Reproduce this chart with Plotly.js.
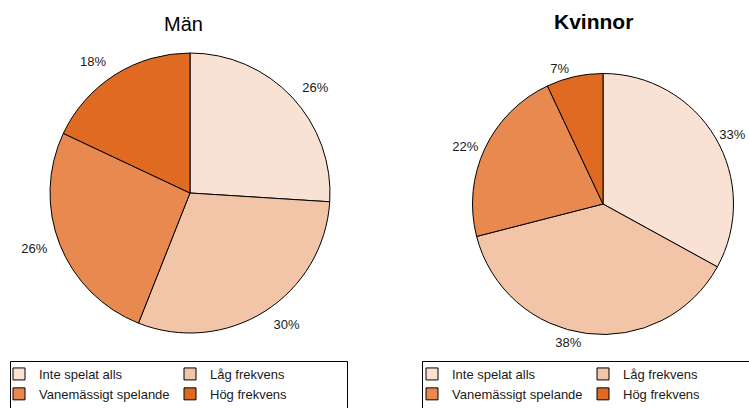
<!DOCTYPE html>
<html>
<head>
<meta charset="utf-8">
<script src="https://cdn.plot.ly/plotly-3.0.1.min.js"></script>
<style>html,body{margin:0;padding:0;background:#fff;}#chart{width:749px;height:408px;}</style>
</head>
<body>
<div id="chart"></div>
<script>
const categories = ["Inte spelat alls", "Låg frekvens", "Vanemässigt spelande", "Hög frekvens"];
const menValues = [26, 30, 26, 18];
const womenValues = [33, 38, 22, 7];
const titles = ["Män", "Kvinnor"];
const colors = ["#F9E1D4", "#F2C4A8", "#E88A50", "#E16A22"];

const W = 749, H = 408, ML = 40, MR = 9;
const GW = W - ML - MR;
const px = v => (v - ML) / GW;
const py = v => 1 - v / H;

const font = {family: "Liberation Sans, Arial, sans-serif", size: 13, color: "#1a1a1a"};

function dom(cx, cy, r) {
  return {x: [px(cx - r), px(cx + r)], y: [py(cy + r), py(cy - r)]};
}

// transparent, slightly larger pie that only carries the outside percentage labels
function labelTrace(vals, d, group) {
  return {
    type: "pie", labels: categories, values: vals, sort: false,
    direction: "clockwise", rotation: 0,
    marker: {colors: categories.map(() => "rgba(0,0,0,0)"), line: {width: 0}},
    textposition: "outside", texttemplate: "%{value}%", textfont: font,
    hoverinfo: "skip", domain: d, showlegend: false, legendgroup: group
  };
}

function pieTrace(vals, d, legendId, group) {
  return {
    type: "pie", labels: categories, values: vals, sort: false,
    direction: "clockwise", rotation: 0,
    marker: {colors: colors, line: {color: "#000", width: 1}},
    textinfo: "none", textposition: "none",
    hoverinfo: "label+percent", domain: d,
    legend: legendId, legendgroup: group, showlegend: true
  };
}

const data = [
  labelTrace(menValues, dom(190, 193, 149), "m"),
  labelTrace(womenValues, dom(602, 204, 132), "k"),
  pieTrace(menValues, dom(190, 193, 140), "legend", "m"),
  pieTrace(womenValues, dom(603, 204, 130.5), "legend2", "k")
];

const legendBase = {
  orientation: "h",
  font: font,
  bgcolor: "rgba(0,0,0,0)",
  borderwidth: 0,
  entrywidth: 126,
  entrywidthmode: "pixels",
  yanchor: "top",
  traceorder: "normal"
};

const layout = {
  width: W, height: H,
  margin: {l: ML, r: MR, t: 0, b: 0, autoexpand: false},
  paper_bgcolor: "#fff",
  plot_bgcolor: "#fff",
  font: font,
  showlegend: true,
  legend: Object.assign({}, legendBase, {x: px(-1), xanchor: "left", y: py(359)}),
  legend2: Object.assign({}, legendBase, {x: px(754), xanchor: "right", y: py(359)}),
  shapes: [
    {type: "rect", xref: "paper", yref: "paper", x0: px(10.5), x1: px(347.5), y0: py(361.5), y1: py(430), line: {color: "#000", width: 1}, fillcolor: "rgba(0,0,0,0)"},
    {type: "rect", xref: "paper", yref: "paper", x0: px(422.5), x1: px(770), y0: py(361.5), y1: py(430), line: {color: "#000", width: 1}, fillcolor: "rgba(0,0,0,0)"}
  ],
  annotations: [
    {text: titles[0], xref: "paper", yref: "paper", x: px(183.5), y: py(24), xanchor: "center", yanchor: "middle", showarrow: false, font: {family: "Liberation Sans, Arial, sans-serif", size: 20, color: "#000"}},
    {text: "<b>" + titles[1] + "</b>", xref: "paper", yref: "paper", x: px(593.5), y: py(21), xanchor: "center", yanchor: "middle", showarrow: false, font: {family: "Liberation Sans, Arial, sans-serif", size: 21, color: "#000"}}
  ]
};

Plotly.newPlot("chart", data, layout, {displayModeBar: false, staticPlot: true});
</script>
</body>
</html>
